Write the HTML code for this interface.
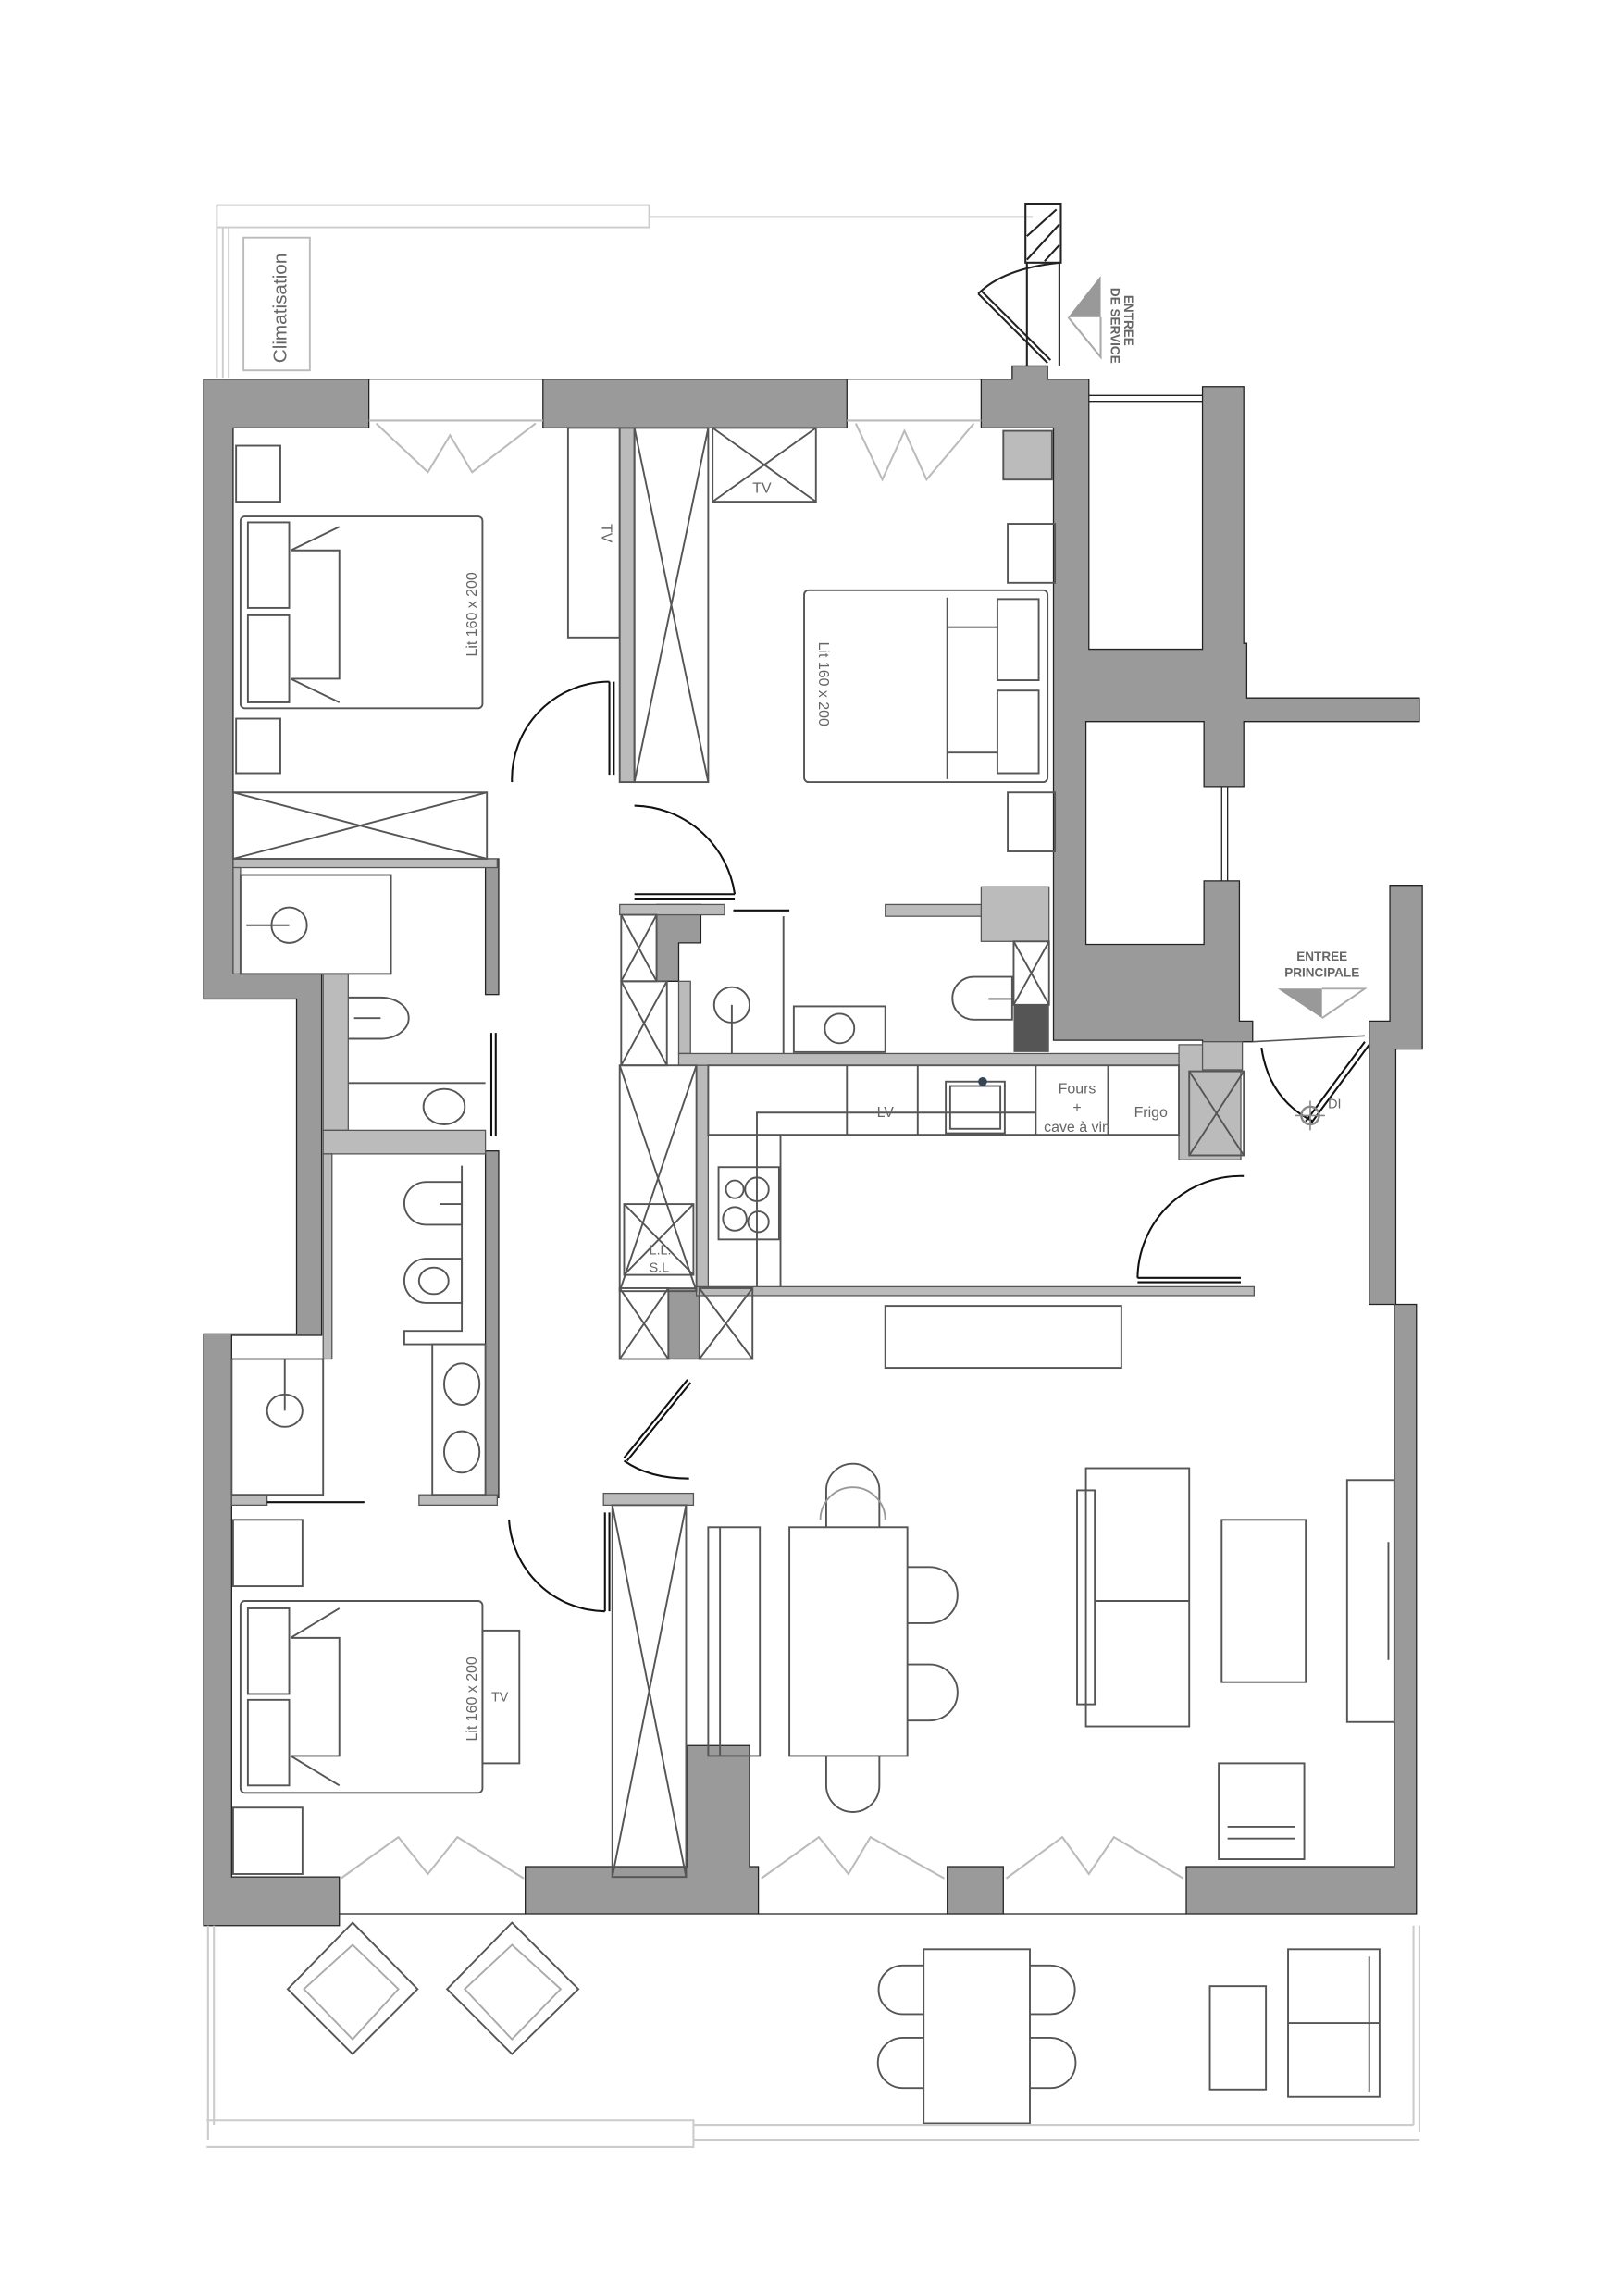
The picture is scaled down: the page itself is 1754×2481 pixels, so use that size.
<!DOCTYPE html>
<html><head><meta charset="utf-8"><style>
html,body{margin:0;padding:0;background:#fff}
svg{display:block}
text{font-family:"Liberation Sans",sans-serif;fill:#666}
</style></head><body>
<svg width="1754" height="2481" viewBox="0 0 1100 1556" preserveAspectRatio="none" xmlns="http://www.w3.org/2000/svg">
<g fill="none" stroke="#ccc" stroke-width="1.2">
<path d="M147 256 V139 H440 V154 H147"/><path d="M440 147 H700"/><path d="M151 256 V154 M155 256 V154"/>
<rect x="165" y="161" width="45" height="90" stroke="#bbb"/>
</g>
<text transform="translate(194,246) rotate(-90)" font-size="13" fill="#aaa">Climatisation</text>
<g stroke="#222" stroke-width="1.3" fill="none">
<rect x="695" y="138" width="24" height="40"/>
<path d="M696 160 L716 142 M696 176 L718 152 M708 177 L718 166"/>
<path d="M696 178 V248 M718 178 V248"/>
<path d="M710 246 L663 199 M712 244 L665 197"/>
<path d="M663 199 Q680 182 718 178"/>
</g>
<path d="M724 215 L746 187 V215 Z" fill="#999"/><path d="M724 215 L746 242 V215" fill="none" stroke="#aaa" stroke-width="1.3"/>
<text transform="translate(753,195) rotate(90)" font-size="8.5" font-weight="bold" fill="#999">DE SERVICE</text>
<text transform="translate(762,200) rotate(90)" font-size="8.5" font-weight="bold" fill="#999">ENTREE</text>

<g fill="#9a9a9a" stroke="#222" stroke-width="0.8">
<path d="M138 257 H250 V290 H158 V660 H218 V905 H157 V1272 H230 V1305 H138 V904 H201 V677 H138 Z"/>
<rect x="368" y="257" width="206" height="33"/>
<path d="M665 257 H686 V248 H710 V257 H738 V440 H815 V262 H843 V436 H845 V473 H962 V489 H843 V533 H816 V489 H736 V640 H816 V597 H840 V692 H849 V706 H815 V705 H714 V290 H665 Z"/>
<path d="M942 600 H964 V711 H946 V884 H960 V1297 H804 V1265 H945 V884 H928 V692 H942 Z"/>
<path d="M356 1265 H466 V1183 H508 V1265 H514 V1297 H356 Z"/>
<rect x="642" y="1265" width="38" height="32"/>
<rect x="329" y="582" width="9" height="92"/>
<rect x="329" y="780" width="9" height="235"/>
<path d="M445 613 H475 V639 H460 V665 H445 Z"/>
<rect x="453" y="873" width="21" height="48"/>
</g>
<path d="M738 268 H815 M738 272 H815" stroke="#222" stroke-width="0.8"/>
<path d="M828 533 V597 M832 533 V597" stroke="#222" stroke-width="0.8"/>
<rect x="687" y="681" width="24" height="32" fill="#555"/>
<g fill="#bbb" stroke="#555" stroke-width="0.8">
<rect x="158" y="582" width="179" height="6"/>
<rect x="158" y="588" width="5" height="72"/>
<rect x="219" y="660" width="17" height="106"/>
<rect x="219" y="766" width="110" height="16"/>
<rect x="219" y="782" width="6" height="139"/>
<rect x="157" y="1013" width="24" height="7"/>
<rect x="284" y="1013" width="53" height="7"/>
<rect x="409" y="1012" width="61" height="8"/>
<rect x="420" y="613" width="71" height="7"/>
<rect x="460" y="665" width="8" height="49"/>
<rect x="460" y="714" width="340" height="8"/>
<rect x="472" y="722" width="8" height="156"/>
<rect x="472" y="872" width="378" height="6"/>
<rect x="799" y="708" width="42" height="78"/>
<rect x="665" y="601" width="46" height="37"/>
<rect x="600" y="613" width="65" height="8"/>
<rect x="815" y="706" width="27" height="19"/>
</g>
<g stroke="#bbb" stroke-width="1.3" fill="none">
<path d="M250 285 H368 M574 285 H665"/>
<path d="M255 287 L290 320 L305 295 L320 320 L363 287"/>
<path d="M580 287 L598 325 L613 292 L628 325 L660 287"/>
<path d="M231 1273 L270 1245 L290 1270 L310 1245 L355 1273"/>
<path d="M516 1273 L555 1245 L575 1270 L590 1245 L640 1273"/>
<path d="M682 1273 L720 1245 L738 1270 L755 1245 L802 1273"/>
</g>
<g stroke="#222" stroke-width="0.8"><path d="M230 1297 H356 M514 1297 H642 M680 1297 H804 M250 257 H368 M574 257 H665"/></g>

<g fill="none" stroke="#555" stroke-width="1.2">
<rect x="160" y="302" width="30" height="38"/><rect x="160" y="487" width="30" height="37"/>
<rect x="163" y="350" width="164" height="130" rx="3"/>
<rect x="168" y="354" width="28" height="58"/><rect x="168" y="417" width="28" height="59"/>
<path d="M197 373 H230 V460 H197 M197 373 L230 357 M197 460 L230 476"/>
<rect x="385" y="290" width="35" height="142"/>
<rect x="158" y="537" width="172" height="45"/><path d="M158 537 L330 582 M330 537 L158 582"/>
<rect x="163" y="593" width="102" height="67"/><ellipse cx="196" cy="627" rx="12" ry="12"/><path d="M167 627 H196"/>
<rect x="420" y="290" width="10" height="240" fill="#bbb"/>
<rect x="430" y="290" width="50" height="240"/><path d="M430 290 L480 530 M480 290 L430 530"/>
<rect x="483" y="290" width="70" height="50"/><path d="M483 290 L553 340 M553 290 L483 340"/>
<rect x="683" y="355" width="32" height="40"/><rect x="683" y="537" width="32" height="40"/>
<rect x="545" y="400" width="165" height="130" rx="3"/>
<rect x="676" y="406" width="28" height="55"/><rect x="676" y="468" width="28" height="56"/>
<path d="M676 425 H642 V510 H676 M642 425 L642 405 M642 510 L642 528"/>
<rect x="680" y="292" width="33" height="33" fill="#bbb"/>
<ellipse cx="496" cy="681" rx="12" ry="12"/><path d="M496 681 V714"/>
<path d="M531 621 V714"/>
<rect x="538" y="682" width="62" height="31"/><circle cx="569" cy="697" r="10"/>
<path d="M686 662 H660 A14 14 0 0 0 660 691 H686 Z"/><path d="M670 677 H686"/>
<rect x="687" y="638" width="24" height="43"/><path d="M687 638 L711 681 M711 638 L687 681"/>
<rect x="421" y="620" width="24" height="45"/><path d="M421 620 L445 665 M445 620 L421 665"/>
<rect x="421" y="665" width="31" height="57"/><path d="M421 665 L452 722 M452 665 L421 722"/>
<rect x="420" y="722" width="52" height="153"/><path d="M420 722 L472 875 M472 722 L420 875"/>
<rect x="423" y="816" width="47" height="48"/><path d="M423 816 L470 864 M470 816 L423 864"/>
<rect x="420" y="873" width="33" height="48"/><path d="M420 873 L453 921 M453 873 L420 921"/>
<rect x="474" y="873" width="36" height="48"/><path d="M474 873 L510 921 M510 873 L474 921"/>
<path d="M236 676 H258 A19 14 0 0 1 258 704 H236"/><path d="M240 690 H258"/>
<path d="M236 734 H329"/><ellipse cx="301" cy="750" rx="14" ry="12"/>
<path d="M313 801 H289 A15 14.5 0 0 0 289 830 H313 Z M313 801 V830"/><path d="M298 816 H313"/>
<path d="M313 853 H289 A15 15 0 0 0 289 883 H313 Z"/><ellipse cx="294" cy="868" rx="10" ry="9"/>
<path d="M313 790 V902 H274 V911 H329"/>
<rect x="293" y="911" width="36" height="102"/><ellipse cx="313" cy="938" rx="12" ry="14"/><ellipse cx="313" cy="984" rx="12" ry="14"/>
<rect x="157" y="921" width="62" height="92"/><ellipse cx="193" cy="956" rx="12" ry="11"/><path d="M193 921 V956"/>
<rect x="158" y="1030" width="47" height="45"/><rect x="158" y="1225" width="47" height="45"/>
<rect x="163" y="1085" width="164" height="130" rx="3"/>
<rect x="168" y="1090" width="28" height="58"/><rect x="168" y="1152" width="28" height="58"/>
<path d="M197 1110 H230 V1190 H197 M197 1110 L230 1090 M197 1190 L230 1210"/>
<rect x="327" y="1105" width="25" height="90"/>
<rect x="415" y="1020" width="50" height="252"/><path d="M415 1020 L465 1272 M465 1020 L415 1272"/>
<rect x="480" y="722" width="319" height="47"/>
<path d="M574 722 V769 M622 722 V769 M702 722 V769 M751 722 V769"/>
<path d="M513 872 V754 H702 M529 872 V769"/>
<rect x="641" y="733" width="40" height="35"/><rect x="644" y="736" width="34" height="29"/>
<rect x="487" y="791" width="41" height="49"/>
<circle cx="498" cy="806" r="6"/><circle cx="513" cy="806" r="8"/><circle cx="498" cy="826" r="8"/><circle cx="514" cy="828" r="7"/>
<rect x="806" y="726" width="37" height="57"/><path d="M806 726 L843 783 M843 726 L806 783"/>
<rect x="600" y="885" width="160" height="42"/>
<rect x="480" y="1035" width="35" height="155"/><path d="M488 1035 V1190"/>
<rect x="535" y="1035" width="80" height="155"/>
<path d="M560 1035 V1010 A18 18 0 0 1 596 1010 V1035"/><path d="M556 1030 A22 22 0 0 1 600 1030" stroke="#999"/>
<path d="M560 1190 V1210 A18 18 0 0 0 596 1210 V1190"/>
<path d="M615 1062 H630 A18 18 0 0 1 630 1100 H615"/><path d="M615 1128 H630 A18 18 0 0 1 630 1166 H615"/>
<rect x="736" y="995" width="70" height="175"/><rect x="730" y="1010" width="12" height="145"/><path d="M742 1085 H806"/>
<rect x="828" y="1030" width="57" height="110"/>
<rect x="913" y="1003" width="32" height="164"/><path d="M941 1045 V1125"/>
<rect x="826" y="1195" width="58" height="65"/><path d="M832 1238 H878 M832 1246 H878"/>
<path d="M239 1303 L283 1348 L239 1392 L195 1348 Z"/><path d="M239 1318 L270 1348 L239 1382 L206 1348 Z" stroke="#aaa"/>
<path d="M347 1303 L392 1348 L347 1392 L303 1348 Z"/><path d="M347 1318 L380 1348 L347 1382 L315 1348 Z" stroke="#aaa"/>
<rect x="626" y="1321" width="72" height="118"/>
<path d="M626 1332 H612 A16 16 0 0 0 612 1365 H626"/><path d="M626 1381 H612 A16 16 0 0 0 612 1415 H626"/>
<path d="M698 1332 H712 A16 16 0 0 1 712 1365 H698"/><path d="M698 1381 H712 A16 16 0 0 1 712 1415 H698"/>
<rect x="873" y="1321" width="62" height="100"/><path d="M873 1371 H935 M928 1326 V1418"/>
<rect x="820" y="1346" width="38" height="70"/>
</g>
<g fill="none" stroke="#ccc" stroke-width="1.3">
<path d="M141 1305 V1450 M145 1305 V1440 M958 1305 V1440 M962 1305 V1445"/>
<path d="M140 1437 H470 V1455 H140 M470 1440 H958 M470 1450 H962"/>
</g>
<g fill="none" stroke="#111" stroke-width="1.3">
<path d="M413 462 V525 M416 462 V525"/><path d="M413 462 A66 66 0 0 0 347 530"/>
<path d="M430 546 A70 70 0 0 1 498 606 M430 606 H498 M430 609 H498"/>
<path d="M410 1025 V1092 M413 1025 V1092"/><path d="M345 1030 A66 66 0 0 0 410 1092"/>
<path d="M771 866 H841 M771 869 H841"/><path d="M771 866 A70 70 0 0 1 843 797"/>
<path d="M466 935 L423 988 M468 937 L425 990"/><path d="M423 990 Q440 1002 467 1002"/>
<path d="M855 710 Q860 745 890 760"/>
<path d="M925 706 L885 760 M928 708 L888 762"/>
<path d="M181 1018 H247 M497 617 H535 M333 700 V770 M336 700 V770"/>
</g>
<path d="M849 706 L925 702" stroke="#555" fill="none"/>
<circle cx="888" cy="756" r="6" fill="none" stroke="#888" stroke-width="1.5"/><path d="M878 756 H898 M888 746 V766" stroke="#888"/>
<text x="900" y="751" font-size="9">DI</text>
<text x="896" y="651" font-size="8.5" font-weight="bold" fill="#999" text-anchor="middle">ENTREE</text>
<text x="896" y="662" font-size="8.5" font-weight="bold" fill="#999" text-anchor="middle">PRINCIPALE</text>
<path d="M866 670 H896 V690 Z" fill="#999"/><path d="M896 670 H925 L896 690" fill="none" stroke="#aaa" stroke-width="1.2"/>
<text x="600" y="757" font-size="10" text-anchor="middle">LV</text>
<text x="730" y="741" font-size="10" text-anchor="middle">Fours</text>
<text x="730" y="754" font-size="10" text-anchor="middle">+</text>
<text x="730" y="767" font-size="10" text-anchor="middle">cave à vin</text>
<text x="780" y="757" font-size="10" text-anchor="middle">Frigo</text>
<text x="510" y="334" font-size="10">TV</text>
<text transform="translate(408,355) rotate(90)" font-size="10">TV</text>
<text transform="translate(323,445) rotate(-90)" font-size="10">Lit 160 x 200</text>
<text transform="translate(555,435) rotate(90)" font-size="10">Lit 160 x 200</text>
<text transform="translate(323,1180) rotate(-90)" font-size="10">Lit 160 x 200</text>
<text x="333" y="1153" font-size="9">TV</text>
<text x="440" y="850" font-size="9" fill="#888">L.L.</text><text x="440" y="862" font-size="9" fill="#888">S.L</text>
<circle cx="666" cy="733" r="3" fill="#345"/>
</svg>
</body></html>
